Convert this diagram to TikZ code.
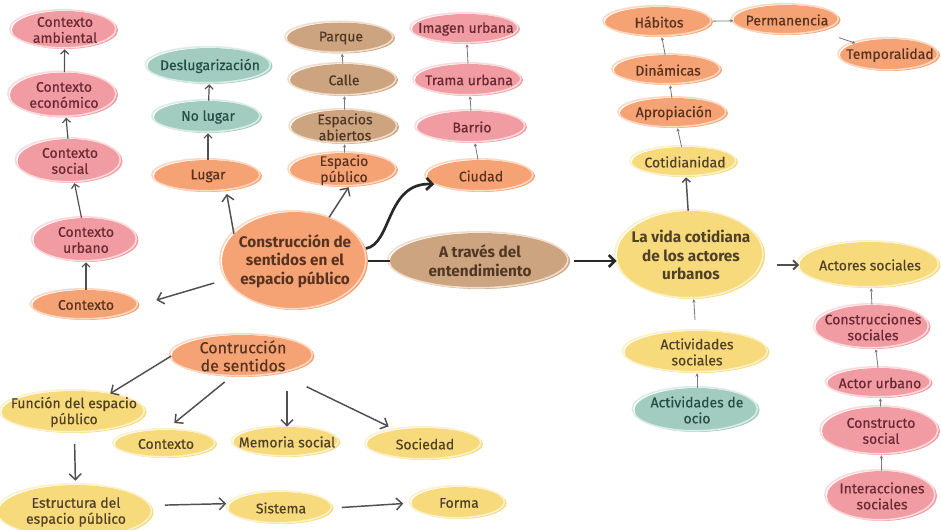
\documentclass[tikz,border=0pt]{standalone}
\usepackage{fontspec}
\setmainfont{Fira Sans}[UprightFeatures={FakeBold=0.4}]
\usetikzlibrary{shapes.geometric,arrows.meta,calc}
\definecolor{orF}{RGB}{245,163,116}
\definecolor{orL}{RGB}{252,216,194}
\definecolor{orX}{RGB}{88,50,32}
\definecolor{pkF}{RGB}{240,156,162}
\definecolor{pkL}{RGB}{252,218,220}
\definecolor{pkX}{RGB}{105,40,50}
\definecolor{tlF}{RGB}{163,204,192}
\definecolor{tlL}{RGB}{218,236,230}
\definecolor{tlX}{RGB}{38,76,68}
\definecolor{tnF}{RGB}{205,164,128}
\definecolor{tnL}{RGB}{240,222,205}
\definecolor{tnX}{RGB}{80,55,36}
\definecolor{ylF}{RGB}{246,218,124}
\definecolor{ylL}{RGB}{252,241,205}
\definecolor{ylX}{RGB}{80,64,38}
\definecolor{arS}{RGB}{120,120,120}
\definecolor{arM}{RGB}{80,80,80}
\definecolor{arB}{RGB}{40,40,40}
\newcommand\bub[8][]{%
  \node[#2, minimum width=#6*0.75pt, minimum height=#7*0.75pt] (#3) at (#4,#5) {};
  \node[#2T,#1] (#3t) at (#3.center) {#8};}
\tikzset{
  bubble/.style={ellipse, inner sep=0pt, draw=none},
  mk/.style 2 args={bubble, fill=#1,
     postaction={draw=#2, line width=1.2pt, transform canvas={shift={(-1.6pt,0.9pt)}}}},
  cOr/.style={mk={orF}{orL}},
  cPk/.style={mk={pkF}{pkL}},
  cTl/.style={mk={tlF}{tlL}},
  cTn/.style={mk={tnF}{tnL}},
  cYl/.style={mk={ylF}{ylL}},
  txt/.style={inner sep=0pt, align=center, font=\fontsize{10.5}{12}\selectfont},
  cOrT/.style={txt, text=orX},
  cPkT/.style={txt, text=pkX},
  cTlT/.style={txt, text=tlX},
  cTnT/.style={txt, text=tnX},
  cYlT/.style={txt, text=ylX},
  bigB/.style={font=\fontsize{11.5}{14}\selectfont\bfseries},
  midF/.style={font=\fontsize{12}{13.5}\selectfont},
  sArr/.style={draw=arM, line width=0.9pt, -{Straight Barb[length=3pt,width=6pt]}},
  tArr/.style={draw=arS, line width=0.6pt, -{Stealth[length=2.5pt,width=2.5pt]}},
  mArr/.style={draw=arM, line width=1.1pt, -{Straight Barb[length=4.5pt,width=9pt]}},
  bArr/.style={draw=arB, line width=2pt, -{Straight Barb[length=4.5pt,width=9pt]}},
}
\begin{document}
\begin{tikzpicture}[x=0.75pt,y=-0.75pt]
\useasboundingbox[fill=white] (0,0) rectangle (941,530);
% left column
\bub{cPk}{camb}{65}{30}{106}{38}{Contexto\\ambiental}
\bub{cPk}{ceco}{64}{95}{108}{45}{Contexto\\económico}
\bub{cPk}{csoc}{70}{161}{105}{44}{Contexto\\social}
\bub{cPk}{curb}{86}{240}{105}{44}{Contexto\\urbano}
\bub{cOr}{ctx}{86}{305}{107}{30}{Contexto}
% lugar column
\bub{cTl}{deslug}{210}{66}{125}{36}{Deslugarización}
\bub{cTl}{nolug}{208}{117}{108}{32}{No lugar}
\bub{cOr}{lugar}{208}{176}{108}{32}{Lugar}
% espacio publico column
\bub{cTn}{parque}{341}{38}{108}{31}{Parque}
\bub{cTn}{calle}{344}{80}{108}{32}{Calle}
\bub{cTn}{espab}{345}{127}{108}{34}{Espacios\\abiertos}
\bub{cOr}{esppub}{344}{170}{108}{34}{Espacio\\público}
% ciudad column
\bub{cPk}{imgurb}{466}{29}{108}{30}{Imagen urbana}
\bub{cPk}{trama}{469}{80}{108}{32}{Trama urbana}
\bub{cPk}{barrio}{472}{127}{110}{32}{Barrio}
\bub{cOr}{ciudad}{481}{176}{108}{32}{Ciudad}
% main row
\bub[bigB]{cOr}{central}{295}{261}{146}{98}{Construcción de\\sentidos en el\\espacio público}
\bub[bigB]{cTn}{atraves}{480}{261}{180}{56}{A través del\\entendimiento}
\bub[bigB]{cYl}{lavida}{691}{255}{148}{88}{La vida cotidiana\\de los actores\\urbanos}
% right top
\bub{cYl}{cotid}{685}{162}{106}{30}{Cotidianidad}
\bub{cOr}{aprop}{674}{113}{108}{30}{Apropiación}
\bub{cOr}{dinam}{668}{70}{108}{30}{Dinámicas}
\bub{cOr}{habit}{659}{22}{108}{30}{Hábitos}
\bub{cOr}{perman}{787}{20}{107}{30}{Permanencia}
\bub{cOr}{tempor}{890}{55}{100}{32}{Temporalidad}
% right column
\bub{cYl}{actores}{870}{265}{141}{46}{Actores sociales}
\bub{cPk}{constrs}{873}{327}{115}{44}{Construcciones\\sociales}
\bub{cPk}{actoru}{880}{383}{105}{30}{Actor urbano}
\bub{cPk}{constrt}{881}{431}{118}{48}{Constructo\\social}
\bub{cPk}{interac}{882}{496}{110}{50}{Interacciones\\sociales}
% actividades
\bub{cYl}{acts}{697}{352}{145}{42}{Actividades\\sociales}
\bub{cTl}{acto}{697}{410}{125}{44}{Actividades de\\ocio}
% bottom left
\bub[midF]{cOr}{contru}{243}{356}{143}{42}{Contrucción\\de sentidos}
\bub{cYl}{funcion}{74}{412}{145}{42}{Función del espacio\\público}
\bub{cYl}{ctx2}{166}{444}{102}{28}{Contexto}
\bub{cYl}{memoria}{287}{442}{107}{30}{Memoria social}
\bub{cYl}{socied}{425}{444}{116}{32}{Sociedad}
\bub{cYl}{estruct}{76}{512}{155}{54}{Estructura del\\espacio público}
\bub{cYl}{sistema}{281}{508}{105}{32}{Sistema}
\bub{cYl}{forma}{459}{503}{95}{32}{Forma}

% small arrows
\draw[sArr] (ctx) -- (curb);
\draw[sArr] (curb) -- (csoc);
\draw[sArr] (csoc) -- (ceco);
\draw[sArr] (ceco) -- (camb);
\draw[sArr] (lugar) -- (nolug);
\draw[sArr] (nolug) -- (deslug);
\draw[tArr] (esppub) -- (espab);
\draw[tArr] (espab) -- (calle);
\draw[tArr] (calle) -- (parque);
\draw[tArr] (ciudad) -- (barrio);
\draw[tArr] (barrio) -- (trama);
\draw[tArr] (trama) -- (imgurb);
\draw[tArr] (cotid) -- (aprop);
\draw[tArr] (aprop) -- (dinam);
\draw[tArr] (dinam) -- (habit);
\draw[tArr] (habit) -- (perman);
\draw[tArr, shorten <=14pt] (perman) -- (tempor);
\draw[tArr, shorten <=8pt] (acts) -- (lavida);
\draw[tArr] (acto) -- (acts);
\draw[tArr] (constrs) -- (actores);
\draw[tArr] (actoru) -- (constrs);
\draw[tArr] (constrt) -- (actoru);
\draw[tArr] (interac) -- (constrt);
\draw[sArr, line width=1.1pt] (lavida) -- (cotid);
% central connectors
\draw[mArr, shorten <=10pt, shorten >=13pt] (central.195) -- (ctx.east);
\draw[mArr, shorten >=2pt] (central.156) -- (lugar.-40);
\draw[mArr] (central.52) -- (esppub.-75);
\draw[arB, line width=2.2pt] (central.east) -- (atraves.west);
\draw[bArr] (central.10) .. controls (392,244) and (386,182) .. (ciudad.190);
\draw[bArr, shorten <=3pt] (atraves.east) -- (atraves.east -| lavida.west);
\draw[draw=arM, line width=1.5pt, -{Straight Barb[length=3.5pt,width=7pt]}, shorten <=9pt] (lavida.east |- actores.west) -- (actores.west);
% bottom connectors
\draw[mArr] (contru.west) -- (funcion.27);
\draw[mArr, shorten <=6pt, shorten >=8pt] (contru.240) -- (ctx2.north);
\draw[mArr, shorten <=10pt] (contru.south -| memoria.north) -- (memoria.north);
\draw[mArr] ($(contru)!0.35!(socied)$) -- ($(contru)!0.8!(socied)$);
\draw[mArr, shorten <=8pt, shorten >=3pt] (funcion) -- (estruct);
\draw[mArr, shorten <=10pt, shorten >=3pt] (estruct.5) -- (sistema.175);
\draw[mArr, shorten <=6pt, shorten >=6pt] (sistema.east) -- (forma.west);
\end{tikzpicture}
\end{document}
